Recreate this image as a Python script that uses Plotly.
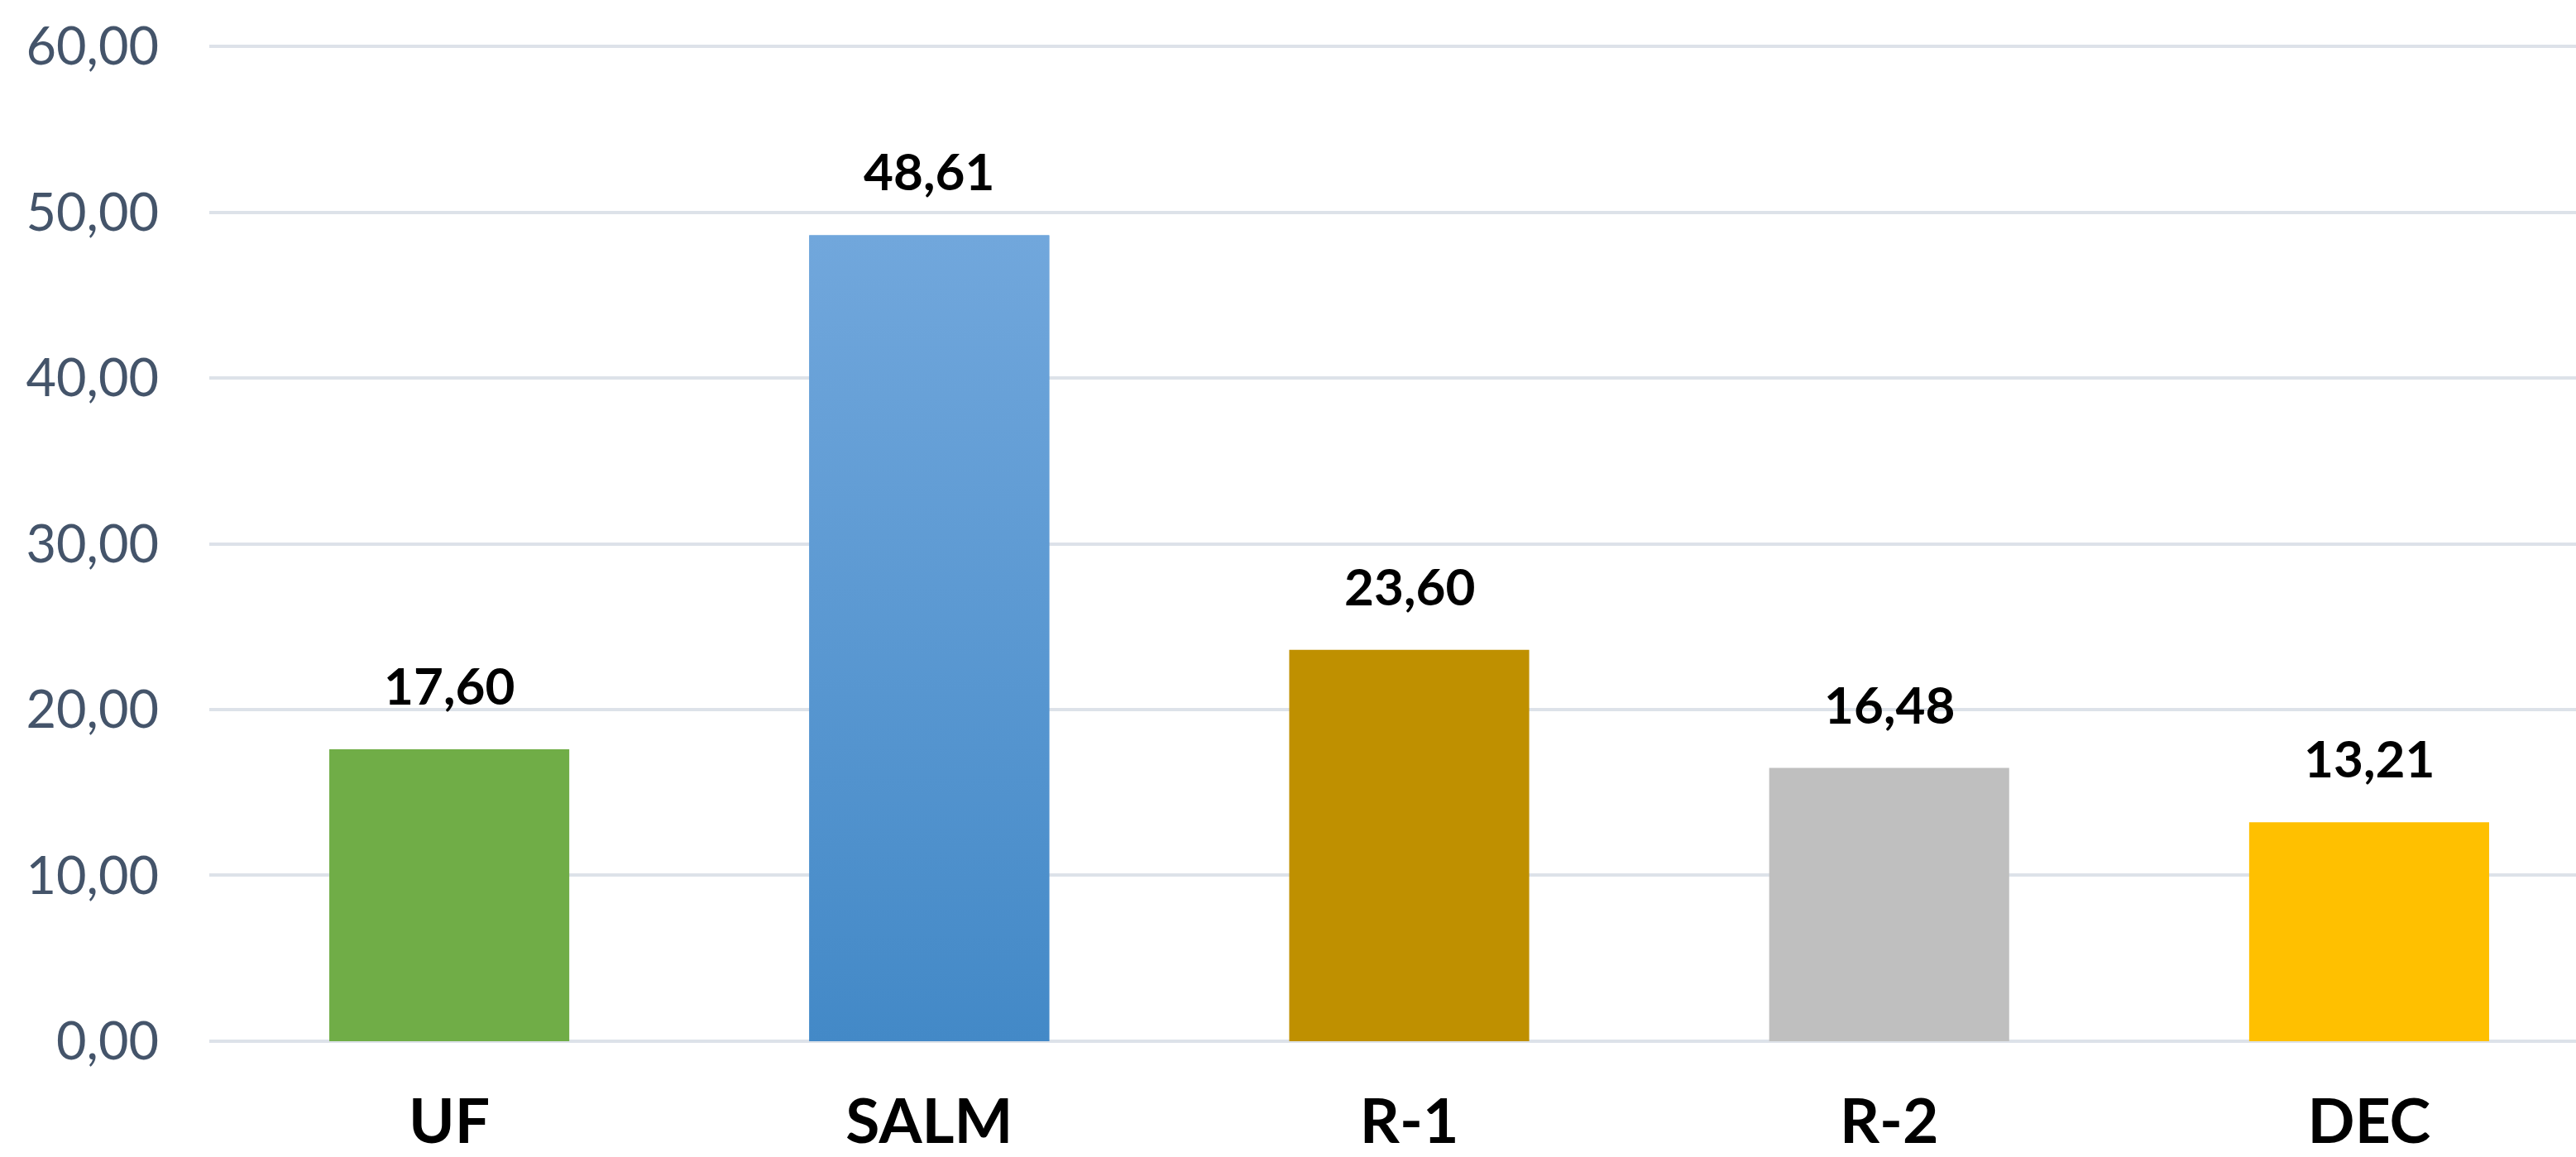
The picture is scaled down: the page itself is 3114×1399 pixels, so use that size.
import plotly.graph_objects as go

categories = ["UF", "SALM", "R-1", "R-2", "DEC"]
values = [17.60, 48.61, 23.60, 16.48, 13.21]
value_labels = ["17,60", "48,61", "23,60", "16,48", "13,21"]
bar_colors = ["#70AD47", "#5A9AD5", "#BF9000", "#BFBFBF", "#FFC000"]
y_ticks = [0, 10, 20, 30, 40, 50, 60]
y_tick_labels = ["0,00", "10,00", "20,00", "30,00", "40,00", "50,00", "60,00"]
salm_gradient = ["#4389C7", "#71A7DC"]

W, H = 3114, 1399
idx = list(range(len(categories)))
bar_w = 0.5

fig = go.Figure()
fig.add_trace(go.Bar(
    x=idx, y=values, width=bar_w,
    marker=dict(color=bar_colors, line=dict(width=0)),
    hoverinfo="skip", showlegend=False,
))

# gradient overlay for the SALM bar
k = categories.index("SALM")
fig.add_trace(go.Scatter(
    x=[k - bar_w / 2, k + bar_w / 2, k + bar_w / 2, k - bar_w / 2, k - bar_w / 2],
    y=[0, 0, values[k], values[k], 0],
    mode="lines", line=dict(width=0), fill="toself",
    fillgradient=dict(type="vertical",
                      colorscale=[[0, salm_gradient[0]], [1, salm_gradient[1]]]),
    hoverinfo="skip", showlegend=False,
))

for i, v in enumerate(values):
    fig.add_annotation(
        x=i, y=v, text=value_labels[i], showarrow=False,
        yanchor="middle", yshift=78,
        font=dict(family="Lato", size=62, color="#000000", weight="bold"),
    )

fig.update_layout(
    width=W, height=H,
    margin=dict(l=253, r=0, t=51, b=135, pad=0),
    paper_bgcolor="white", plot_bgcolor="white",
    bargap=0.5,
    xaxis=dict(
        range=[-0.5, 4.431], tickmode="array", tickvals=idx, ticktext=categories,
        showgrid=False, zeroline=False, showline=False, ticks="",
        ticklabelstandoff=42, automargin=False,
        tickfont=dict(family="Lato", size=75, color="#000000", weight="bold"),
    ),
    yaxis=dict(
        range=[-0.25, 60.25], tickmode="array", tickvals=y_ticks, ticktext=y_tick_labels,
        showgrid=True, gridcolor="#DDE2E9", gridwidth=4,
        zeroline=False, showline=False, ticks="",
        ticklabelstandoff=60, automargin=False,
        tickfont=dict(family="Lato", size=63, color="#44546A"),
    ),
)

fig.write_html("out.html")
